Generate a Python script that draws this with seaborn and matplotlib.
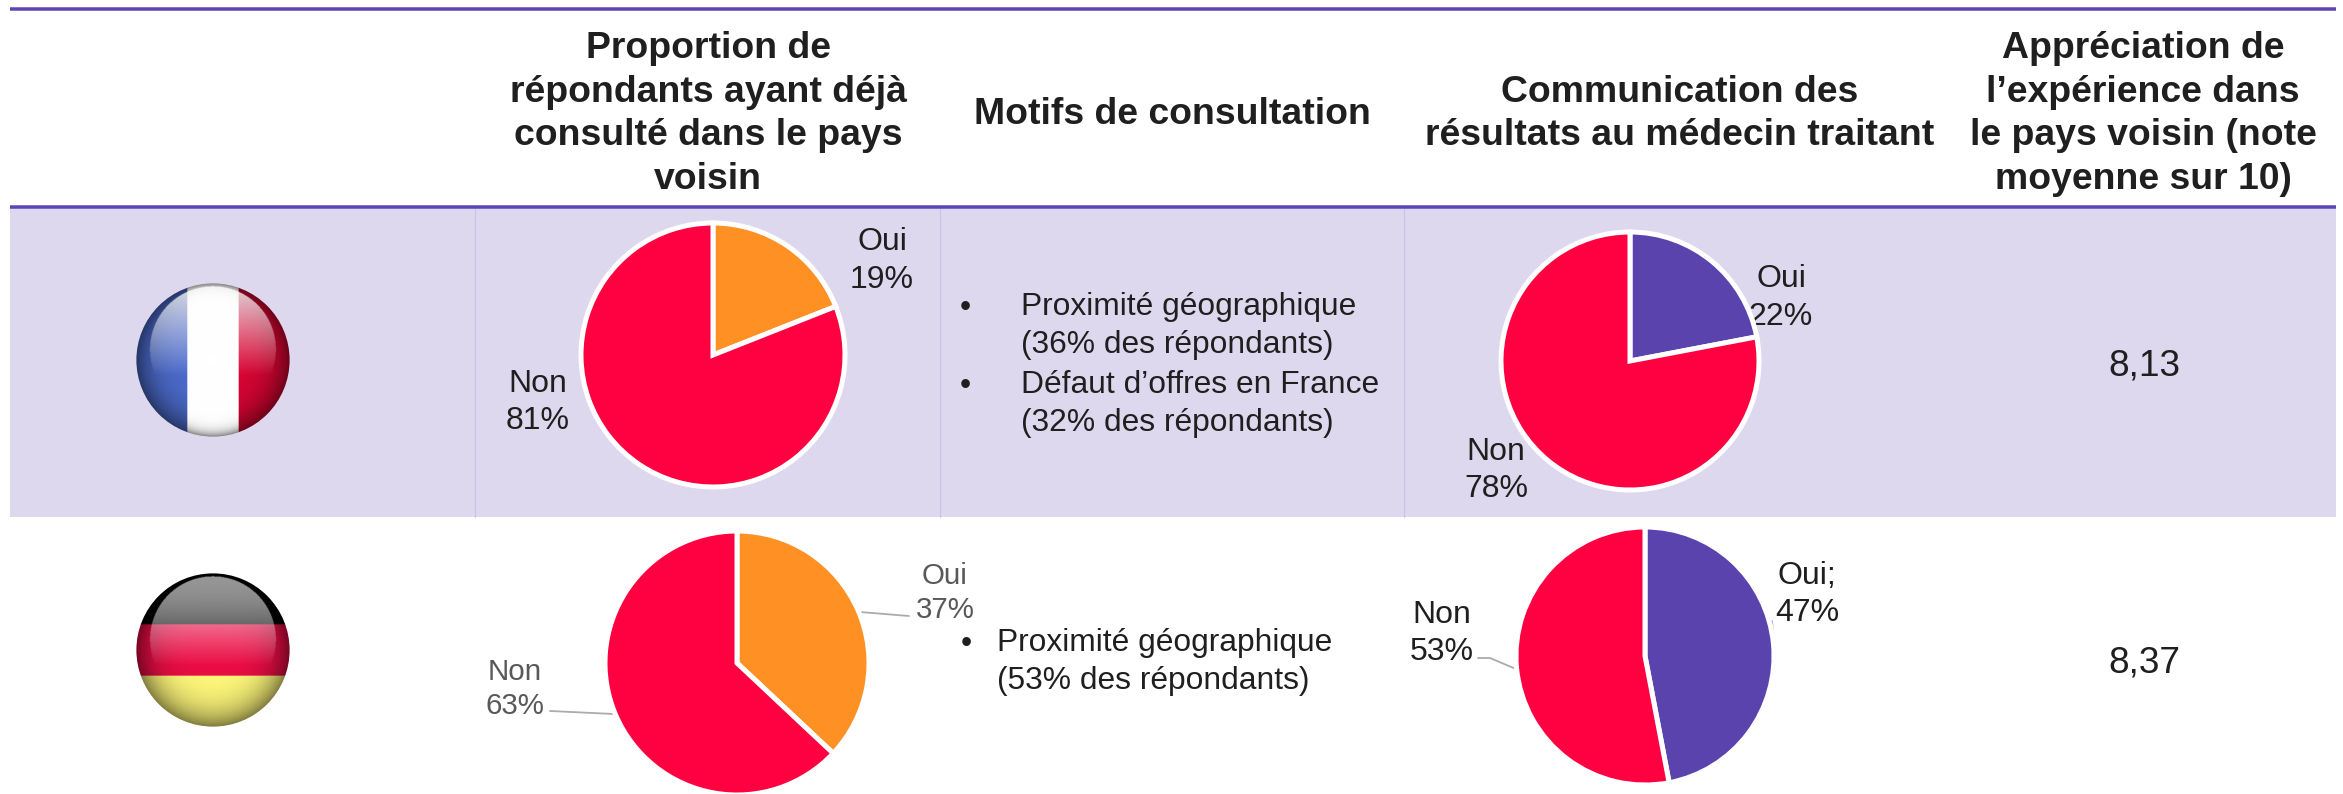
import numpy as np
import matplotlib
matplotlib.use("Agg")
import matplotlib.pyplot as plt
from matplotlib.patches import Circle
import seaborn as sns

# chart values
answers = ["Oui", "Non"]
france_consulted = [19, 81]
france_told_doctor = [22, 78]
germany_consulted = [37, 63]
germany_told_doctor = [47, 53]
scores = ["8,13", "8,37"]

headers = [
    "Proportion de\nrépondants ayant déjà\nconsulté dans le pays\nvoisin",
    "Motifs de consultation",
    "Communication des\nrésultats au médecin traitant",
    "Appréciation de\nl’expérience dans\nle pays voisin (note\nmoyenne sur 10)",
]
france_reasons = [
    "Proximité géographique\n(36% des répondants)",
    "Défaut d’offres en France\n(32% des répondants)",
]
germany_reasons = ["Proximité géographique\n(53% des répondants)"]

sns.set_theme(style="white")
plt.rcParams["font.family"] = ["Liberation Sans", "DejaVu Sans"]

red, orange, purple = sns.color_palette(["#FF0040", "#FF9124", "#5B43AE"])
BAND = "#DED8EE"
RULE = "#5E45B5"
DIVIDER = "#C9C3E6"
INK = "#1F1F1F"
GREY = "#595959"

W, H = 2343, 794
fig = plt.figure(figsize=(W / 100, H / 100), dpi=100, facecolor="white")

# one full-size axes in pixel units for the table and the text
page = fig.add_axes([0, 0, 1, 1])
page.set_xlim(0, W)
page.set_ylim(H, 0)
page.axis("off")


def px(size):
    return size * 0.72


def label(x, y, text, size=32, color=INK, **kw):
    kw.setdefault("ha", "center")
    page.text(x, y + 4, text, fontsize=px(size), color=color, va="center", **kw)


def pie(cx, cy, r, values, colors):
    pad = 1.05
    ax = fig.add_axes([(cx - r * pad) / W, 1 - (cy + r * pad) / H,
                       2 * r * pad / W, 2 * r * pad / H])
    ax.pie(values, colors=colors, startangle=90, counterclock=False,
           wedgeprops={"edgecolor": "white", "linewidth": px(5)})
    ax.set_xlim(-pad, pad)
    ax.set_ylim(-pad, pad)
    ax.axis("off")


def flag(cx, cy, r, kind):
    n = 300
    yy, xx = np.mgrid[-1:1:n * 1j, -1:1:n * 1j]
    img = np.zeros((n, n, 3))
    if kind == "fr":
        img[xx < -1 / 3] = (0.30, 0.42, 0.80)
        img[(xx >= -1 / 3) & (xx < 1 / 3)] = (1, 1, 1)
        img[xx >= 1 / 3] = (0.85, 0.02, 0.20)
        white = (xx >= -1 / 3) & (xx < 1 / 3)
    else:
        img[yy < -1 / 3] = (0.02, 0.02, 0.02)
        img[(yy >= -1 / 3) & (yy < 1 / 3)] = (0.92, 0.05, 0.27)
        img[yy >= 1 / 3] = (1.0, 0.97, 0.48)
        white = np.zeros_like(xx, dtype=bool)
    # darker towards the rim, less so on the white stripe
    rr = np.sqrt(xx ** 2 + yy ** 2)
    shade = 1 - 0.5 * np.clip(rr, 0, 1) ** 4
    shade[white] = 1 - 0.5 * np.clip(rr[white], 0, 1) ** 14
    img = img * shade[..., None]
    # gloss in the upper half
    inside = (xx / 0.82) ** 2 + ((yy + 0.14) / 0.82) ** 2 < 1
    gloss = np.clip((0.2 - yy) / 1.2, 0, 1) * 0.85
    gloss = np.where(inside, gloss, 0)[..., None]
    img = img * (1 - gloss) + gloss
    if kind == "de":
        dark = np.where(inside & (yy < -1 / 3), 0.65 - 0.55 * (yy + 1), 0)[..., None]
        img = img * (1 - dark) + 0.45 * dark
    ax = fig.add_axes([(cx - r) / W, 1 - (cy + r) / H, 2 * r / W, 2 * r / H])
    im = ax.imshow(img, extent=(-1, 1, 1, -1), interpolation="bilinear")
    im.set_clip_path(Circle((0, 0), 0.995, transform=ax.transData))
    ax.axis("off")


# table frame
page.fill_between([10, 2336], 207, 517, color=BAND, lw=0, zorder=0)
for y in (9, 207):
    page.plot([10, 2336], [y, y], color=RULE, lw=px(3.5), zorder=2, solid_capstyle="butt")
for x in (475, 940, 1404):
    page.plot([x, x], [208, 517], color=DIVIDER, lw=px(1.2), zorder=1)

# header row
for x, y, text in zip((708, 1172, 1680, 2143), (114, 115, 114, 114), headers):
    page.text(x, y, text, fontsize=px(37.4), color=INK, fontweight="bold",
              ha="center", va="center", linespacing=1.31)

flag(213, 360, 77, "fr")
flag(213, 650, 77, "de")

pie(713, 355, 132, france_consulted, [orange, red])
pie(1630, 361, 129, france_told_doctor, [purple, red])
pie(737, 663, 132, germany_consulted, [orange, red])
pie(1645, 656, 129, germany_told_doctor, [purple, red])

# pie labels, one line each
label(882, 238, answers[0])
label(882, 276, f"{france_consulted[0]}%")
label(538, 380, answers[1])
label(538, 417, f"{france_consulted[1]}%")

label(1781, 275, answers[0])
label(1781, 313, f"{france_told_doctor[0]}%")
label(1496, 448, answers[1])
label(1496, 485, f"{france_told_doctor[1]}%")

label(945, 572, answers[0], size=29.5, color=GREY)
label(945, 606, f"{germany_consulted[0]}%", size=29.5, color=GREY)
label(515, 668, answers[1], size=29.5, color=GREY)
label(515, 702, f"{germany_consulted[1]}%", size=29.5, color=GREY)

label(1807, 572, answers[0] + ";")
label(1807, 609, f"{germany_told_doctor[0]}%")
label(1442, 611, answers[1])
label(1442, 648, f"{germany_told_doctor[1]}%")

# leader lines
for xs, ys in [
    ([860, 909], [612, 616]),
    ([550, 614], [711, 714]),
    ([1478, 1490, 1516], [658, 658, 669]),
    ([1772, 1774], [621, 644]),
]:
    page.plot(xs, ys, color="#ABABAB", lw=px(1.8), zorder=3)

# reasons
for y, text in zip((324, 402), france_reasons):
    label(965, y - 20, "•", size=32, zorder=4)
    page.text(1021, y + 2, text, fontsize=px(31.8), color=INK, ha="left", va="center", linespacing=1.36)
for y, text in zip((660,), germany_reasons):
    label(966, y - 20, "•", size=32, zorder=4)
    page.text(997, y + 2, text, fontsize=px(31.8), color=INK, ha="left", va="center", linespacing=1.36)

# scores
label(2144, 362, scores[0], size=37)
label(2144, 659, scores[1], size=37)

fig.savefig("out.png", dpi=100)
